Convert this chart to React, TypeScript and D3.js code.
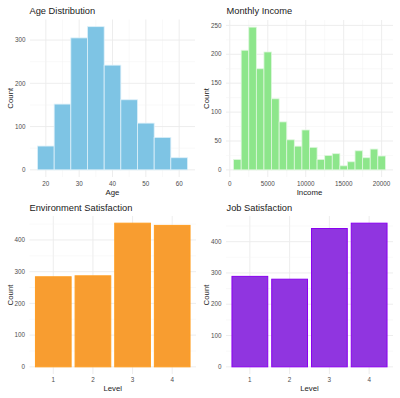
import React, { useEffect, useRef } from "react";
import * as d3 from "d3";

// Age histogram (bin width 5)
const ageBins = [20, 25, 30, 35, 40, 45, 50, 55, 60];
const ageCounts = [55, 152, 305, 331, 242, 162, 108, 75, 28];
const ageTicks = [20, 30, 40, 50, 60];
const ageCountTicks = [0, 100, 200, 300];

// Monthly income histogram (bin width 1000)
const incomeBins = [
  1000, 2000, 3000, 4000, 5000, 6000, 7000, 8000, 9000, 10000, 11000, 12000,
  13000, 14000, 15000, 16000, 17000, 18000, 19000, 20000,
];
const incomeCounts = [
  18, 207, 247, 175, 204, 123, 83, 52, 41, 69, 39, 18, 25, 28, 7, 14, 33, 21,
  36, 24,
];
const incomeTicks = [0, 5000, 10000, 15000, 20000];
const incomeCountTicks = [0, 50, 100, 150, 200, 250];

// Satisfaction levels
const levels = ["1", "2", "3", "4"];
const envCounts = [284, 287, 453, 446];
const jobCounts = [289, 280, 442, 459];
const levelCountTicks = [0, 100, 200, 300, 400];

const W = 400;
const H = 398;
const FONT = "'Liberation Sans', Arial, Helvetica, sans-serif";

const minorOf = (ticks, lo, hi) => {
  const step = ticks[1] - ticks[0];
  const ext = [ticks[0] - step, ...ticks, ticks[ticks.length - 1] + step];
  const out = [];
  for (let i = 0; i < ext.length - 1; i++) {
    const m = (ext[i] + ext[i + 1]) / 2;
    if (m >= lo && m <= hi) out.push(m);
  }
  return out;
};

const drawFrame = (g, p, y, yTicks) => {
  const [lo, hi] = y.domain();
  // horizontal grid
  g.append("g")
    .selectAll("line")
    .data(minorOf(yTicks, lo, hi))
    .enter()
    .append("line")
    .attr("x1", p.left)
    .attr("x2", p.right)
    .attr("y1", (d) => y(d))
    .attr("y2", (d) => y(d))
    .attr("stroke", "#F2F2F2")
    .attr("stroke-width", 0.5);
  g.append("g")
    .selectAll("line")
    .data(yTicks)
    .enter()
    .append("line")
    .attr("x1", p.left)
    .attr("x2", p.right)
    .attr("y1", (d) => y(d))
    .attr("y2", (d) => y(d))
    .attr("stroke", "#EBEBEB")
    .attr("stroke-width", 0.9);

  // y tick labels
  g.append("g")
    .selectAll("text")
    .data(yTicks)
    .enter()
    .append("text")
    .attr("x", p.left - 4.5)
    .attr("y", (d) => y(d))
    .attr("dy", "0.35em")
    .attr("text-anchor", "end")
    .attr("font-size", 6.3)
    .attr("fill", "#4D4D4D")
    .text((d) => d);

  // title
  g.append("text")
    .attr("x", p.titleX)
    .attr("y", p.titleY)
    .attr("font-size", 9.3)
    .attr("fill", "#1A1A1A")
    .text(p.title);

  // y label
  g.append("text")
    .attr(
      "transform",
      `translate(${p.yLabX},${(p.top + p.bottom) / 2})rotate(-90)`
    )
    .attr("text-anchor", "middle")
    .attr("font-size", 7.8)
    .attr("fill", "#1A1A1A")
    .text("Count");

  // x label
  g.append("text")
    .attr("x", (p.left + p.right) / 2)
    .attr("y", p.xLabY)
    .attr("text-anchor", "middle")
    .attr("font-size", 7.8)
    .attr("fill", "#1A1A1A")
    .text(p.xLabel);
};

const drawVGrid = (g, p, xs, pos, color, width) => {
  g.append("g")
    .selectAll("line")
    .data(xs)
    .enter()
    .append("line")
    .attr("x1", (d) => pos(d))
    .attr("x2", (d) => pos(d))
    .attr("y1", p.top)
    .attr("y2", p.bottom)
    .attr("stroke", color)
    .attr("stroke-width", width);
};

const drawXTicks = (g, p, xs, pos, fmt) => {
  g.append("g")
    .selectAll("text")
    .data(xs)
    .enter()
    .append("text")
    .attr("x", (d) => pos(d))
    .attr("y", p.xTickY)
    .attr("text-anchor", "middle")
    .attr("font-size", 6.3)
    .attr("fill", "#4D4D4D")
    .text(fmt);
};

const drawHistogram = (svg, p, bins, counts, binWidth, xTicks, yTicks) => {
  const g = svg.append("g");
  const lo = bins[0] - binWidth / 2;
  const hi = bins[bins.length - 1] + binWidth / 2;
  const pad = (hi - lo) * 0.05;
  const x = d3
    .scaleLinear()
    .domain([lo - pad, hi + pad])
    .range([p.left, p.right]);
  const maxC = d3.max(counts);
  const y = d3
    .scaleLinear()
    .domain([-0.05 * maxC, 1.05 * maxC])
    .range([p.bottom, p.top]);

  const [xl, xh] = x.domain();
  drawVGrid(g, p, minorOf(xTicks, xl, xh), x, "#F2F2F2", 0.5);
  drawVGrid(g, p, xTicks, x, "#EBEBEB", 0.9);
  drawFrame(g, p, y, yTicks);

  g.append("g")
    .selectAll("rect")
    .data(bins)
    .enter()
    .append("rect")
    .attr("x", (d) => x(d - binWidth / 2))
    .attr("width", x(binWidth) - x(0))
    .attr("y", (d, i) => y(counts[i]))
    .attr("height", (d, i) => y(0) - y(counts[i]))
    .attr("fill", p.fill)
    .attr("stroke", p.stroke)
    .attr("stroke-width", 0.8);

  drawXTicks(g, p, xTicks, x, (d) => d);
};

const drawBars = (svg, p, counts, yTicks) => {
  const g = svg.append("g");
  const x = d3
    .scaleBand()
    .domain(levels)
    .range([p.left, p.right])
    .paddingInner(0.1)
    .paddingOuter(0.15);
  const maxC = d3.max(counts);
  const y = d3
    .scaleLinear()
    .domain([-0.05 * maxC, 1.05 * maxC])
    .range([p.bottom, p.top]);
  const cx = (d) => x(d) + x.bandwidth() / 2;

  drawVGrid(g, p, levels, cx, "#EBEBEB", 0.9);
  drawFrame(g, p, y, yTicks);

  g.append("g")
    .selectAll("rect")
    .data(levels)
    .enter()
    .append("rect")
    .attr("x", (d) => x(d))
    .attr("width", x.bandwidth())
    .attr("y", (d, i) => y(counts[i]))
    .attr("height", (d, i) => y(0) - y(counts[i]))
    .attr("fill", p.fill)
    .attr("stroke", p.stroke)
    .attr("stroke-width", 1);

  drawXTicks(g, p, levels, cx, (d) => d);
};

const App = () => {
  const ref = useRef(null);

  useEffect(() => {
    const svg = d3.select(ref.current);
    svg.selectAll("*").remove();

    drawHistogram(
      svg,
      {
        left: 30, right: 195, top: 19.5, bottom: 177,
        titleX: 29.5, titleY: 14, yLabX: 12.5, xTickY: 185.5, xLabY: 195,
        title: "Age Distribution", xLabel: "Age",
        fill: "#7EC4E4", stroke: "#DDF0F9",
      },
      ageBins, ageCounts, 5, ageTicks, ageCountTicks
    );

    drawHistogram(
      svg,
      {
        left: 226, right: 393, top: 20, bottom: 177,
        titleX: 226.5, titleY: 14, yLabX: 208.5, xTickY: 185.5, xLabY: 195,
        title: "Monthly Income", xLabel: "Income",
        fill: "#8DE68B", stroke: "#DFF7DE",
      },
      incomeBins, incomeCounts, 1000, incomeTicks, incomeCountTicks
    );

    drawBars(
      svg,
      {
        left: 29.5, right: 196, top: 216, bottom: 374,
        titleX: 29.5, titleY: 211, yLabX: 12.5, xTickY: 382, xLabY: 390.5,
        title: "Environment Satisfaction", xLabel: "Level",
        fill: "#F89D30", stroke: "#FF9E22",
      },
      envCounts, levelCountTicks
    );

    drawBars(
      svg,
      {
        left: 226, right: 393, top: 216, bottom: 374,
        titleX: 226.5, titleY: 211, yLabX: 208.5, xTickY: 382, xLabY: 390.5,
        title: "Job Satisfaction", xLabel: "Level",
        fill: "#9035E0", stroke: "#8A00F0",
      },
      jobCounts, levelCountTicks
    );
  }, []);

  return (
    <svg
      ref={ref}
      width={W}
      height={H}
      style={{ position: "absolute", left: 0, top: 0, background: "#fff", fontFamily: FONT }}
    />
  );
};

export default App;
